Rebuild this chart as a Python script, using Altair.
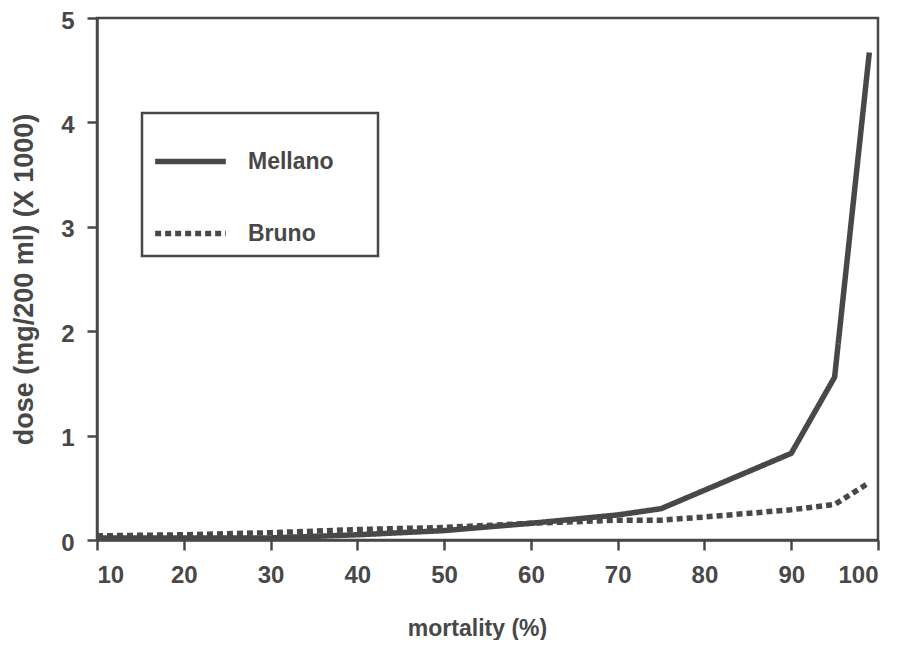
import altair as alt
import pandas as pd

mortality_mellano = [10, 20, 30, 40, 50, 60, 70, 75, 90, 95, 99]
dose_mellano = [0.02, 0.02, 0.02, 0.05, 0.09, 0.16, 0.24, 0.30, 0.83, 1.56, 4.67]

mortality_bruno = [10, 20, 30, 40, 50, 60, 70, 75, 80, 90, 95, 99]
dose_bruno = [0.04, 0.05, 0.07, 0.10, 0.12, 0.16, 0.19, 0.19, 0.22, 0.29, 0.34, 0.55]

series = ["Mellano", "Bruno"]

df = pd.concat([
    pd.DataFrame({"mortality": mortality_mellano, "dose": dose_mellano, "series": series[0]}),
    pd.DataFrame({"mortality": mortality_bruno, "dose": dose_bruno, "series": series[1]}),
])

INK = "#484848"
FONT = "Liberation Sans"

chart = alt.Chart(df).mark_line(strokeWidth=5.5, color=INK).encode(
    x=alt.X("mortality:Q", scale=alt.Scale(domain=[10, 100], nice=False, zero=False),
            axis=alt.Axis(values=list(range(10, 101, 10)), title="mortality (%)", grid=False,
                          tickSize=10, labelPadding=13, titlePadding=30, titleFontSize=23,
                          titleX=380)),
    y=alt.Y("dose:Q", scale=alt.Scale(domain=[0, 5], nice=False),
            axis=alt.Axis(values=[0, 1, 2, 3, 4, 5], title="dose (mg/200 ml) (X 1000)", grid=False,
                          tickSize=10, labelPadding=13, labelOffset=3,
                          titlePadding=22, titleFontSize=27)),
    strokeDash=alt.StrokeDash("series:N",
                              scale=alt.Scale(domain=series, range=[[1, 0], [6, 4]]),
                              legend=alt.Legend(title=" ", titleOrient="right", titlePadding=34,
                                                orient="none", legendX=45, legendY=95,
                                                symbolType="stroke", symbolSize=5000,
                                                symbolStrokeWidth=5.5, symbolStrokeColor=INK,
                                                labelFontSize=23, labelFont=FONT, labelFontWeight="bold",
                                                labelColor=INK, labelOffset=19, rowPadding=21,
                                                padding=10, strokeColor=INK,
                                                fillColor="white")),
    order=alt.Order("mortality:Q"),
).properties(
    width=781, height=522,
    autosize=alt.AutoSizeParams(type="none"),
    padding={"left": 89, "top": 10, "right": 20, "bottom": 100},
).configure(
    background="white",
).configure_view(
    stroke=INK, strokeWidth=2.5,
).configure_legend(
    strokeWidth=2.5,
).configure_axis(
    domainColor=INK, domainWidth=2.5, tickColor=INK, tickWidth=2.5,
    labelColor=INK, labelFont=FONT, labelFontSize=24, labelFontWeight="bold",
    titleColor=INK, titleFont=FONT, titleFontWeight="bold",
)

chart.save("out.html", embed_options={"renderer": "svg", "actions": False})
